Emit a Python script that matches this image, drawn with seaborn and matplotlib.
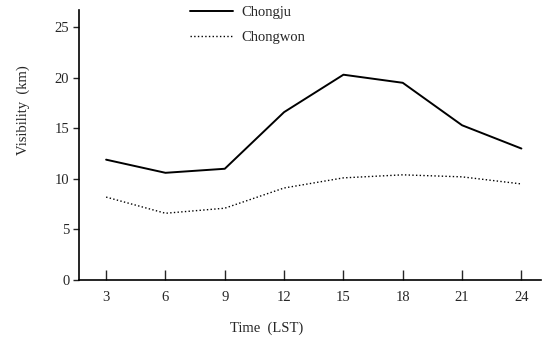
import matplotlib
matplotlib.use("Agg")
import matplotlib.pyplot as plt
import pandas as pd
import seaborn as sns
from matplotlib.lines import Line2D

hours = [3, 6, 9, 12, 15, 18, 21, 24]
chongju = [11.9, 10.6, 11.0, 16.6, 20.3, 19.5, 15.3, 13.0]
chongwon = [8.2, 6.6, 7.1, 9.1, 10.1, 10.4, 10.2, 9.5]
stations = ["Chongju", "Chongwon"]

df = pd.DataFrame({
    "time": hours * 2,
    "vis": chongju + chongwon,
    "station": [stations[0]] * len(hours) + [stations[1]] * len(hours),
})

sns.set_style("ticks")
plt.rcParams["font.family"] = ["Liberation Serif", "DejaVu Serif"]

fig = plt.figure(figsize=(5.45, 3.44), dpi=100)
ax = fig.add_axes([0.145, 0.186, 0.848, 0.785])

sns.lineplot(data=df, x="time", y="vis", hue="station", style="station",
             palette=["black", "black"], dashes=[(None, None), (1, 1)],
             ax=ax, legend=False)
ax.lines[0].set_linewidth(1.4)
ax.lines[1].set_linewidth(1.0)
ax.lines[1].set_linestyle(":")

ax.set_xlim(1.63, 25.0)
ax.set_ylim(0, 26.7)
ax.set_xticks(hours)
ax.set_yticks([0, 5, 10, 15, 20, 25])
ax.tick_params(axis="x", direction="in", length=7, width=1, labelsize=10.5, pad=8)
ax.tick_params(axis="y", direction="out", length=4, width=1, labelsize=10.5, pad=3)
sns.despine(ax=ax)
for s in ["left", "bottom"]:
    ax.spines[s].set_linewidth(1.2)
    ax.spines[s].set_color("black")

ax.set_xlabel("Time  (LST)", fontsize=10.5)
ax.set_ylabel("Visibility  (km)", fontsize=10.5)
ax.xaxis.set_label_coords(0.407, -0.152)
ax.yaxis.set_label_coords(-0.106, 0.63)

handles = [Line2D([], [], color="black", lw=1.4),
           Line2D([], [], color="black", lw=1.0, ls=":")]
fig.legend(handles, stations, loc="upper left", bbox_to_anchor=(0.325, 1.02),
           frameon=False, fontsize=10.5, handlelength=2.9, handletextpad=0.6,
           labelspacing=0.8)

fig.savefig("out.png", dpi=100)
